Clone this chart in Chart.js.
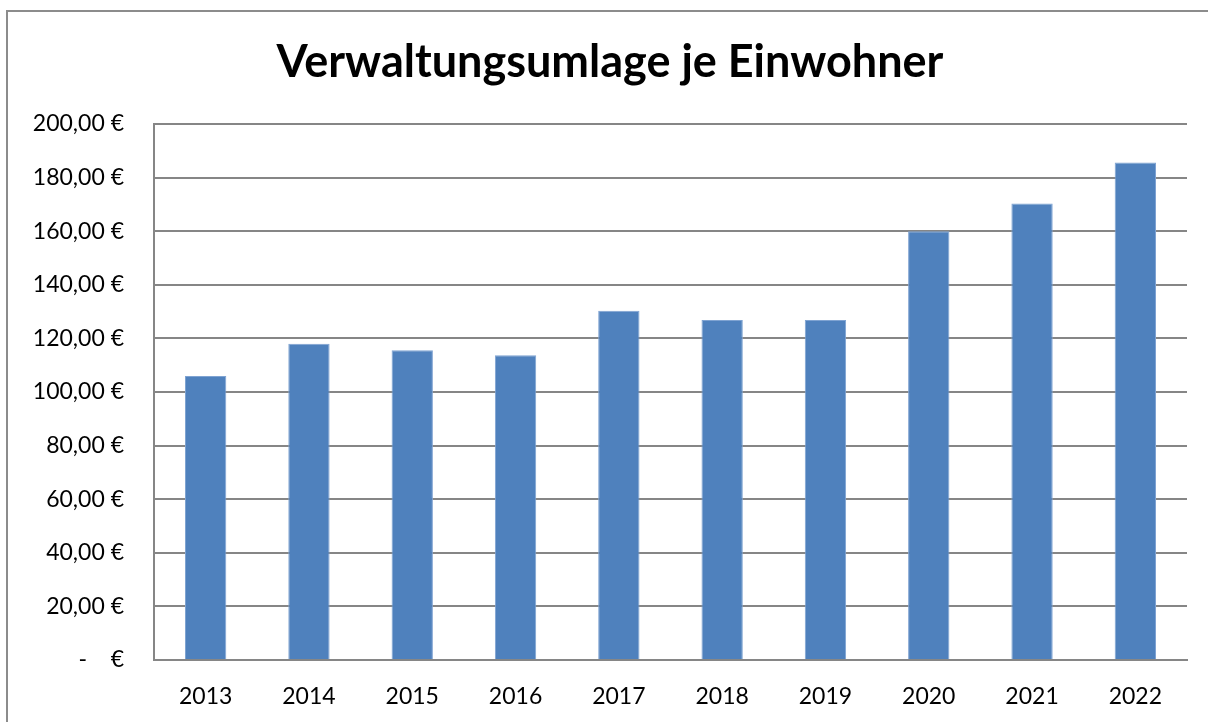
<!DOCTYPE html>
<html>
<head>
<meta charset="utf-8">
<script src="https://cdn.jsdelivr.net/npm/chart.js@4"></script>
<style>
  html, body { margin: 0; padding: 0; background: #fff; overflow: hidden; }
  .frame {
    position: absolute; left: 6px; top: 10px;
    width: 1240px; height: 760px;
    border: 2px solid #8c8c8c; box-sizing: border-box;
  }
  .wrap { position: absolute; left: 0; top: 0; width: 1208px; height: 722px; }
</style>
</head>
<body>
<div class="frame"></div>
<div class="wrap"><canvas id="chart" width="1208" height="722"></canvas></div>
<script>
const years = ['2013', '2014', '2015', '2016', '2017', '2018', '2019', '2020', '2021', '2022'];
const umlage = [106.0, 118.0, 115.6, 113.7, 130.3, 126.9, 126.9, 160.0, 170.3, 185.6];
const yTicks = [0, 20, 40, 60, 80, 100, 120, 140, 160, 180, 200];

const FONT = 'Lato, "Open Sans", sans-serif';

const euro = v => v === 0 ? '-    €' : v.toFixed(2).replace('.', ',') + ' €';

const titlePlugin = {
  id: 'excelTitle',
  afterDraw(chart) {
    const ctx = chart.ctx;
    ctx.save();
    ctx.font = 'bold 45px ' + FONT;
    ctx.fillStyle = '#000';
    ctx.textAlign = 'center';
    ctx.textBaseline = 'middle';
    ctx.fillText('Verwaltungsumlage je Einwohner', 610, 62);
    ctx.restore();
  }
};

new Chart(document.getElementById('chart'), {
  type: 'bar',
  data: {
    labels: years,
    datasets: [{
      label: 'Verwaltungsumlage je Einwohner',
      data: umlage,
      backgroundColor: '#4f81bd',
      borderColor: '#7fa3d2',
      borderWidth: 1,
      categoryPercentage: 1.0,
      barPercentage: 0.4
    }]
  },
  options: {
    responsive: false,
    animation: false,
    layout: { padding: { top: 124, right: 21, left: 0, bottom: 0 } },
    plugins: {
      legend: { display: false },
      title: { display: false },
      tooltip: { enabled: false }
    },
    scales: {
      x: {
        grid: { display: false, drawTicks: false },
        border: { color: '#868686', width: 2 },
        ticks: { color: '#000', font: { family: FONT, size: 23 }, padding: 23 },
        afterFit(scale) { scale.height = 62; }
      },
      y: {
        min: 0,
        max: 200,
        afterBuildTicks(scale) { scale.ticks = yTicks.map(v => ({ value: v })); },
        grid: { color: '#868686', lineWidth: 2, drawTicks: false },
        border: { color: '#868686', width: 2 },
        ticks: {
          color: '#000',
          font: { family: FONT, size: 23 },
          padding: 30,
          callback: v => euro(v)
        },
        afterFit(scale) { scale.width = 154; }
      }
    }
  },
  plugins: [titlePlugin]
});
</script>
</body>
</html>
